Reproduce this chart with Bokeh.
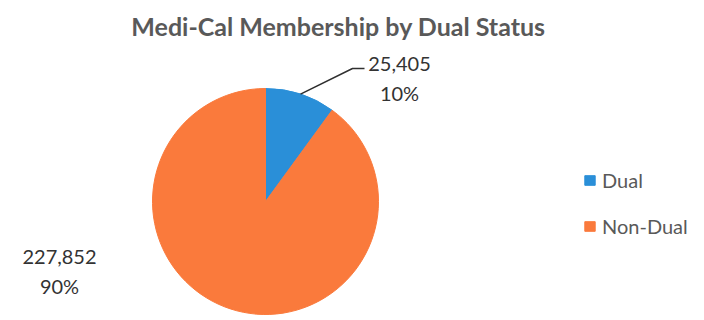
import math
from bokeh.plotting import figure
from bokeh.models import ColumnDataSource, Range1d, Legend, LegendItem
from bokeh.core.properties import value
from bokeh.embed import file_html
from bokeh.resources import INLINE

title = "Medi-Cal Membership by Dual Status"
categories = ["Dual", "Non-Dual"]
members = [25405, 227852]
colors = ["#2A8FD8", "#FA7A3C"]

W, H = 704, 320
cx, cy, r = 265, H - 201, 113
FONT = "Lato"

total = sum(members)
fracs = [m / total for m in members]
starts, ends, mids = [], [], []
a = math.pi / 2
for f in fracs:
    starts.append(a)
    a2 = a - 2 * math.pi * f
    ends.append(a2)
    mids.append((a + a2) / 2)
    a = a2

p = figure(width=W, height=H, x_range=Range1d(0, W), y_range=Range1d(0, H),
           output_backend="svg", toolbar_location=None, min_border=0,
           outline_line_color=None, background_fill_color="white",
           border_fill_color="white")
p.axis.visible = False
p.grid.visible = False

renderers = []
for i, cat in enumerate(categories):
    src = ColumnDataSource(dict(x=[cx], y=[cy], s=[starts[i]], e=[ends[i]]))
    rr = p.wedge(x="x", y="y", radius=r, start_angle="s", end_angle="e",
                 direction="clock", fill_color=colors[i], line_color=colors[i],
                 line_width=1, source=src)
    renderers.append(rr)

# title
p.text(x=[338], y=[H - 25], text=[title], text_align="center", text_baseline="middle",
       text_font=value(FONT), text_font_style="bold", text_font_size="25px",
       text_color="#595959")

# data labels
lbl_num = [f"{m:,}" for m in members]
lbl_pct = [f"{round(f * 100)}%" for f in fracs]
label_pos = [(399, H - 63), (59, H - 256)]
for i in range(len(categories)):
    lx, ly = label_pos[i]
    p.text(x=[lx, lx], y=[ly, ly - 29], text=[lbl_num[i], lbl_pct[i]],
           text_align="center", text_baseline="middle",
           text_font=value(FONT), text_font_size="20px", text_color="#333333")

# leader line for Dual slice
m = mids[0]
x0, y0 = cx + r * math.cos(m), cy + r * math.sin(m)
p.line(x=[x0, 352, 364], y=[y0, H - 68, H - 68], line_color="#303030", line_width=1.5)

legend = Legend(items=[LegendItem(label=c, renderers=[rr]) for c, rr in zip(categories, renderers)],
                location=(583, H - 238), orientation="vertical",
                label_text_font=FONT, label_text_font_size="20px",
                label_text_color="#595959", glyph_width=13, glyph_height=12,
                spacing=22, padding=0, margin=0, border_line_color=None,
                background_fill_alpha=0, label_standoff=6, label_height=22)
p.add_layout(legend, "center")

open("out.html", "w").write(file_html(p, INLINE))
